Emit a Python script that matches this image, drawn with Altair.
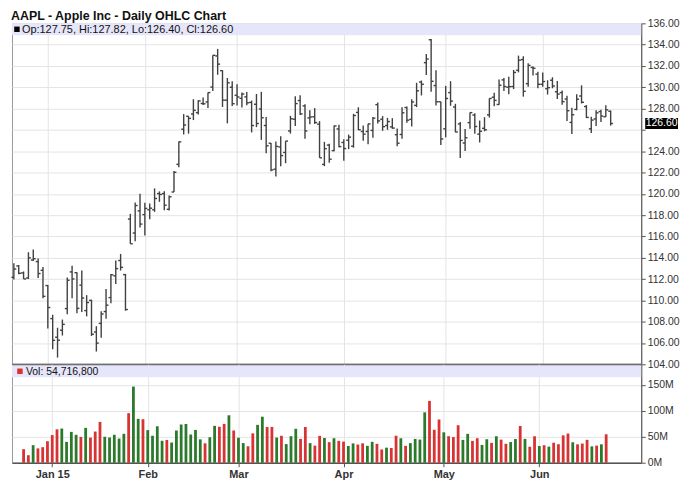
import altair as alt
import pandas as pd

title_text = "AAPL - Apple Inc - Daily OHLC Chart"

dates = [
    "2014-12-22", "2014-12-23", "2014-12-24", "2014-12-26", "2014-12-29", "2014-12-30", "2014-12-31",
    "2015-01-02", "2015-01-05", "2015-01-06", "2015-01-07", "2015-01-08", "2015-01-09", "2015-01-12",
    "2015-01-13", "2015-01-14", "2015-01-15", "2015-01-16", "2015-01-20", "2015-01-21", "2015-01-22",
    "2015-01-23", "2015-01-26", "2015-01-27", "2015-01-28", "2015-01-29", "2015-01-30",
    "2015-02-02", "2015-02-03", "2015-02-04", "2015-02-05", "2015-02-06", "2015-02-09", "2015-02-10",
    "2015-02-11", "2015-02-12", "2015-02-13", "2015-02-17", "2015-02-18", "2015-02-19", "2015-02-20",
    "2015-02-23", "2015-02-24", "2015-02-25", "2015-02-26", "2015-02-27",
    "2015-03-02", "2015-03-03", "2015-03-04", "2015-03-05", "2015-03-06", "2015-03-09", "2015-03-10",
    "2015-03-11", "2015-03-12", "2015-03-13", "2015-03-16", "2015-03-17", "2015-03-18", "2015-03-19",
    "2015-03-20", "2015-03-23", "2015-03-24", "2015-03-25", "2015-03-26", "2015-03-27", "2015-03-30",
    "2015-03-31",
    "2015-04-01", "2015-04-02", "2015-04-06", "2015-04-07", "2015-04-08", "2015-04-09", "2015-04-10",
    "2015-04-13", "2015-04-14", "2015-04-15", "2015-04-16", "2015-04-17", "2015-04-20", "2015-04-21",
    "2015-04-22", "2015-04-23", "2015-04-24", "2015-04-27", "2015-04-28", "2015-04-29", "2015-04-30",
    "2015-05-01", "2015-05-04", "2015-05-05", "2015-05-06", "2015-05-07", "2015-05-08", "2015-05-11",
    "2015-05-12", "2015-05-13", "2015-05-14", "2015-05-15", "2015-05-18", "2015-05-19", "2015-05-20",
    "2015-05-21", "2015-05-22", "2015-05-26", "2015-05-27", "2015-05-28", "2015-05-29",
    "2015-06-01", "2015-06-02", "2015-06-03", "2015-06-04", "2015-06-05", "2015-06-08", "2015-06-09",
    "2015-06-10", "2015-06-11", "2015-06-12", "2015-06-15", "2015-06-16", "2015-06-17", "2015-06-18",
    "2015-06-19",
]

opens = [
    112.16, 113.23, 112.58, 112.10, 113.79, 113.64, 112.82,
    111.39, 108.29, 106.54, 107.20, 109.23, 112.67, 112.60, 111.43, 109.04, 110.00,
    107.03, 107.84, 108.95, 110.26, 112.30, 113.74, 112.42, 117.63, 116.32, 118.40,
    118.05, 118.50, 118.50, 120.02, 120.02, 118.55, 120.17, 122.77, 126.06, 127.28,
    127.49, 127.62, 128.48, 128.62, 130.02, 132.94, 131.56, 128.79, 130.00,
    129.25, 128.96, 129.10, 128.58, 128.40, 127.96, 126.41, 124.75, 122.31, 124.40,
    123.88, 125.90, 127.00, 128.75, 128.25, 127.12, 127.23, 126.54, 122.76, 124.57, 124.05, 126.09,
    124.82, 125.03, 124.47, 127.64, 125.85, 125.85, 125.95, 128.37, 127.00, 126.41,
    126.28, 125.55, 125.57, 128.10, 126.99, 128.30, 130.49, 132.31, 134.46, 130.16, 128.64,
    126.10, 129.50, 128.15, 126.56, 124.77, 126.68, 127.39, 125.60, 126.15, 127.41,
    129.07, 128.38, 130.69, 130.00, 130.07, 131.60, 132.60, 130.34, 131.86, 131.23,
    130.28, 129.86, 130.66, 129.58, 129.50, 128.90, 126.70, 127.92, 129.18, 128.19,
    126.10, 127.03, 127.72, 127.23, 127.75,
]

highs = [
    113.49, 113.33, 112.71, 114.52, 114.77, 113.92, 113.13,
    111.44, 108.65, 107.43, 108.20, 112.15, 113.25, 112.63, 112.80, 110.49, 110.06,
    107.58, 108.97, 111.06, 112.47, 113.75, 114.36, 112.48, 118.12, 119.19, 120.00,
    119.17, 119.09, 120.51, 120.23, 120.25, 119.84, 122.15, 124.92, 127.48, 127.28,
    128.88, 128.78, 129.03, 129.50, 133.00, 133.60, 131.60, 130.87, 130.57,
    130.28, 129.52, 129.56, 128.75, 129.37, 129.57, 127.22, 124.77, 124.90, 125.40,
    124.95, 127.32, 129.16, 129.25, 128.40, 127.85, 128.04, 126.82, 124.88, 124.70, 126.40, 126.49,
    125.12, 125.56, 127.51, 128.12, 126.40, 126.58, 127.21, 128.57, 127.29, 127.13,
    127.10, 126.14, 128.12, 128.20, 128.87, 130.42, 130.63, 133.13, 134.54, 131.59, 128.64,
    130.13, 130.57, 128.45, 126.75, 126.08, 127.62, 127.56, 126.88, 127.19, 128.95,
    129.49, 130.72, 130.88, 130.98, 131.63, 132.97, 132.91, 132.26, 131.95, 131.45,
    131.39, 130.66, 130.94, 130.58, 129.69, 129.21, 128.08, 129.34, 130.18, 128.33,
    127.24, 127.85, 127.88, 128.31, 127.82,
]

lows = [
    111.97, 112.46, 112.01, 112.01, 113.70, 112.11, 110.21,
    107.35, 105.41, 104.63, 106.70, 108.70, 110.21, 108.80, 108.91, 108.50, 106.66,
    105.20, 106.50, 108.27, 109.72, 111.53, 112.80, 109.03, 115.31, 115.56, 116.85,
    116.08, 117.61, 118.31, 119.25, 118.45, 118.43, 120.16, 122.50, 125.57, 125.65,
    126.92, 127.45, 128.33, 128.05, 129.66, 131.17, 128.15, 126.61, 128.24,
    128.30, 128.09, 128.32, 125.76, 126.26, 125.06, 123.80, 122.11, 121.63, 122.58,
    122.87, 125.65, 126.37, 127.40, 125.16, 126.52, 126.56, 123.38, 122.60, 122.91, 124.00, 124.36,
    123.10, 124.19, 124.33, 125.98, 124.97, 124.66, 125.26, 126.61, 125.91, 126.01,
    126.11, 124.46, 125.17, 126.67, 126.32, 128.14, 129.23, 131.15, 129.57, 128.30, 124.58,
    125.30, 128.26, 125.78, 123.36, 124.02, 126.11, 125.63, 124.82, 125.87, 127.16,
    128.21, 128.36, 129.64, 129.34, 129.83, 131.40, 129.12, 130.05, 131.10, 129.90,
    130.05, 129.32, 129.90, 128.91, 128.36, 126.83, 125.62, 127.85, 128.48, 127.11,
    125.71, 126.37, 126.74, 127.22, 126.40,
]

closes = [
    112.94, 112.54, 112.01, 113.99, 113.91, 112.52, 110.38,
    109.33, 106.25, 106.26, 107.75, 111.89, 112.01, 109.25, 110.22, 109.80, 106.82,
    105.99, 108.72, 109.55, 112.40, 112.98, 113.10, 109.14, 115.31, 118.90, 117.16,
    118.63, 118.65, 119.56, 119.94, 118.93, 119.72, 122.02, 124.88, 126.46, 127.08,
    127.83, 128.72, 128.45, 129.50, 133.00, 132.17, 128.79, 130.42, 128.46,
    129.09, 129.36, 128.54, 126.41, 126.60, 127.14, 124.51, 122.24, 124.45, 123.59,
    124.95, 127.04, 128.47, 127.50, 125.90, 127.21, 126.69, 123.38, 124.24, 123.25, 126.37, 124.43,
    124.25, 125.32, 127.35, 126.01, 125.60, 126.56, 127.10, 126.85, 126.30, 126.78,
    126.17, 124.75, 127.60, 126.91, 128.62, 129.67, 130.28, 132.65, 130.56, 128.64, 125.15,
    128.95, 128.70, 125.80, 125.01, 125.26, 127.62, 126.32, 125.87, 126.01, 128.95,
    128.77, 130.19, 130.07, 130.06, 131.39, 132.54, 129.62, 132.05, 131.78, 130.28,
    130.54, 129.96, 130.12, 129.36, 128.65, 127.80, 127.42, 128.88, 128.59, 127.17,
    126.92, 127.60, 127.30, 127.88, 126.60,
]

# volume in millions of shares (first day's bar is not shown in the picture)
volumes_m = [
    None, 26.03, 14.48, 33.72, 27.60, 29.88, 41.40,
    53.20, 64.29, 65.80, 40.11, 59.36, 53.70, 49.65, 67.09, 48.34, 60.01,
    78.51, 49.90, 48.58, 53.80, 46.46, 55.62, 95.31, 146.48, 84.44, 83.75,
    62.74, 51.92, 70.15, 42.25, 43.71, 38.89, 62.01, 73.56, 74.47, 54.27,
    63.15, 44.89, 37.36, 48.95, 70.97, 69.23, 74.71, 91.29, 62.01,
    48.10, 37.82, 31.67, 56.52, 72.84, 88.53, 68.86, 68.94, 48.36, 51.83,
    35.87, 51.02, 65.27, 45.81, 68.70, 37.71, 32.84, 51.66, 47.57, 39.55, 47.10, 42.09,
    40.62, 32.22, 37.19, 35.01, 37.33, 32.48, 40.19, 36.37, 25.52, 28.97,
    28.37, 51.96, 47.05, 32.44, 37.65, 45.77, 44.53, 96.95, 118.92, 63.39, 83.20,
    58.51, 50.99, 49.27, 72.14, 43.94, 55.55, 42.04, 47.11, 34.18, 45.20,
    38.21, 50.88, 44.45, 36.45, 39.73, 45.60, 70.70, 45.83, 30.73, 50.88,
    32.11, 33.67, 30.98, 38.45, 35.63, 52.67, 56.09, 39.35, 35.39, 36.89,
    43.99, 31.49, 32.92, 35.41, 54.72,
]
last_volume_shares = 54716800

month_starts = ["2015-01-02", "2015-02-02", "2015-03-02", "2015-04-01", "2015-05-01", "2015-06-01"]
month_labels = ["Jan 15", "Feb", "Mar", "Apr", "May", "Jun"]
price_ticks = [104, 106, 108, 110, 112, 114, 116, 118, 120, 122, 124, 126, 128, 130, 132, 134, 136]
vol_ticks_m = [0, 50, 100, 150]

# ---------------------------------------------------------------- data table
df = pd.DataFrame({
    "date": dates, "open": opens, "high": highs, "low": lows,
    "close": closes, "vol": volumes_m,
})
df["idx"] = range(len(df))
prev = df["close"].shift(1)
df["dir"] = ["up" if (p == p and c >= p) else "down" for c, p in zip(df["close"], prev)]
month_idx = [dates.index(d) for d in month_starts]

last_close = closes[-1]
header_text = "Op:%.2f, Hi:%.2f, Lo:%.2f, Cl:%.2f" % (opens[-1], highs[-1], lows[-1], closes[-1])
vol_text = "Vol: {:,}".format(last_volume_shares)
one = pd.DataFrame({"k": [0]})

# ---------------------------------------------------------------- styles
W = 633
PH = 343
VH = 99
FONT = "Liberation Sans"
BAR = "#404040"
BAND = "#e6e6fa"
GRID = "#e4e4e4"
UP = "#2b7a2b"
DOWN = "#d93232"

xs = alt.Scale(domain=[-0.39, 129.3], nice=False, zero=False)
ys = alt.Scale(domain=[104, 136], nice=False, zero=False)
vs = alt.Scale(domain=[0, 189.4], nice=False, zero=False)

x_axis_p = alt.Axis(values=month_idx, labels=False, ticks=False, grid=True, gridColor=GRID,
                    domain=True, domainColor="#111111", domainWidth=2, title=None,
                    minExtent=0, maxExtent=0, labelPadding=0, offset=0)
price_label_expr = "abs(datum.value - %s) < 1 ? '' : format(datum.value, '.2f')" % last_close
y_axis_p = alt.Axis(orient="right", values=price_ticks, labelExpr=price_label_expr, grid=True,
                    gridColor=GRID, tickSize=4, labelPadding=2, title=None)

month_expr = ""
for i, lab in zip(month_idx, month_labels):
    month_expr += "datum.value == %d ? '%s' : " % (i, lab)
month_expr += "''"
x_axis_v = alt.Axis(values=month_idx, labelExpr=month_expr, grid=True, gridColor=GRID, tickSize=4,
                    labelPadding=2, labelFontWeight="bold", labelFontSize=11, domainColor="#555555",
                    domainWidth=1.5, title=None)
y_axis_v = alt.Axis(orient="right", values=vol_ticks_m, labelExpr="datum.value + 'M'", grid=True,
                    gridColor=GRID, tickSize=4, labelPadding=2, title=None)

base = alt.Chart(df)
Xp = alt.X("idx:Q", scale=xs, axis=x_axis_p)

hl = base.mark_rule(color=BAR, strokeWidth=1.4).encode(
    x=Xp, y=alt.Y("low:Q", scale=ys, axis=y_axis_p), y2="high:Q")
op = base.transform_calculate(xo="datum.idx - 0.5").mark_rule(color=BAR, strokeWidth=1.4).encode(
    x=alt.X("xo:Q", scale=xs, axis=x_axis_p), x2="idx:Q", y=alt.Y("open:Q", scale=ys, axis=y_axis_p))
cl = base.transform_calculate(xc="datum.idx + 0.5").mark_rule(color=BAR, strokeWidth=1.4).encode(
    x=Xp, x2="xc:Q", y=alt.Y("close:Q", scale=ys, axis=y_axis_p))

band_p = alt.Chart(one).mark_rect(color=BAND).encode(
    x=alt.value(0), x2=alt.value(W), y=alt.value(0), y2=alt.value(12))
sq_p = alt.Chart(one).mark_square(color="black", filled=True, size=30, opacity=1).encode(
    x=alt.value(5), y=alt.value(6))
txt_p = alt.Chart(one).mark_text(text=header_text, align="left", baseline="middle", font=FONT,
                                 fontSize=11, color="#111111").encode(x=alt.value(10), y=alt.value(6.5))
title = alt.Chart(one).mark_text(text=title_text, align="left", baseline="top", font=FONT,
                                 fontSize=12.5, fontWeight="bold", color="#111111").encode(
    x=alt.value(-1), y=alt.value(-13))
box = alt.Chart(one).mark_rect(color="black").encode(
    x=alt.value(W + 4), x2=alt.value(W + 37),
    y=alt.Y(datum=last_close + 0.52, scale=ys, axis=y_axis_p), y2=alt.Y2(datum=last_close - 0.52))
box_txt = alt.Chart(one).mark_text(text="%.2f" % last_close, align="center", baseline="middle",
                                   font=FONT, fontSize=10.5, color="white").encode(
    x=alt.value(W + 20.5), y=alt.Y(datum=last_close, scale=ys, axis=y_axis_p))

price = alt.layer(hl, op, cl, band_p, sq_p, txt_p, title, box, box_txt).properties(width=W, height=PH)

vbars = base.mark_bar(width=2.8).encode(
    x=alt.X("idx:Q", scale=xs, axis=x_axis_v),
    y=alt.Y("vol:Q", scale=vs, axis=y_axis_v),
    color=alt.Color("dir:N", scale=alt.Scale(domain=["up", "down"], range=[UP, DOWN]), legend=None),
)
band_v = alt.Chart(one).mark_rect(color=BAND).encode(
    x=alt.value(0), x2=alt.value(W), y=alt.value(1), y2=alt.value(13))
sq_v = alt.Chart(one).mark_square(color=DOWN, filled=True, size=30, opacity=1).encode(
    x=alt.value(8), y=alt.value(7))
txt_v = alt.Chart(one).mark_text(text=vol_text, align="left", baseline="middle", font=FONT,
                                 fontSize=10.5, color="#111111").encode(x=alt.value(14), y=alt.value(7.5))
volume = alt.layer(vbars, band_v, sq_v, txt_v).properties(width=W, height=VH)

chart = alt.vconcat(price, volume, spacing=0, bounds="flush").properties(
    padding={"left": 2, "top": 0, "right": 0, "bottom": 4}, background="white"
).configure_view(stroke="#999999", strokeWidth=1).configure_axis(
    labelFont=FONT, labelFontSize=10.5, labelColor="#333333", tickColor="#555555",
    domainColor="#555555"
)

chart.save("out.html", embed_options={"renderer": "svg", "actions": False})
